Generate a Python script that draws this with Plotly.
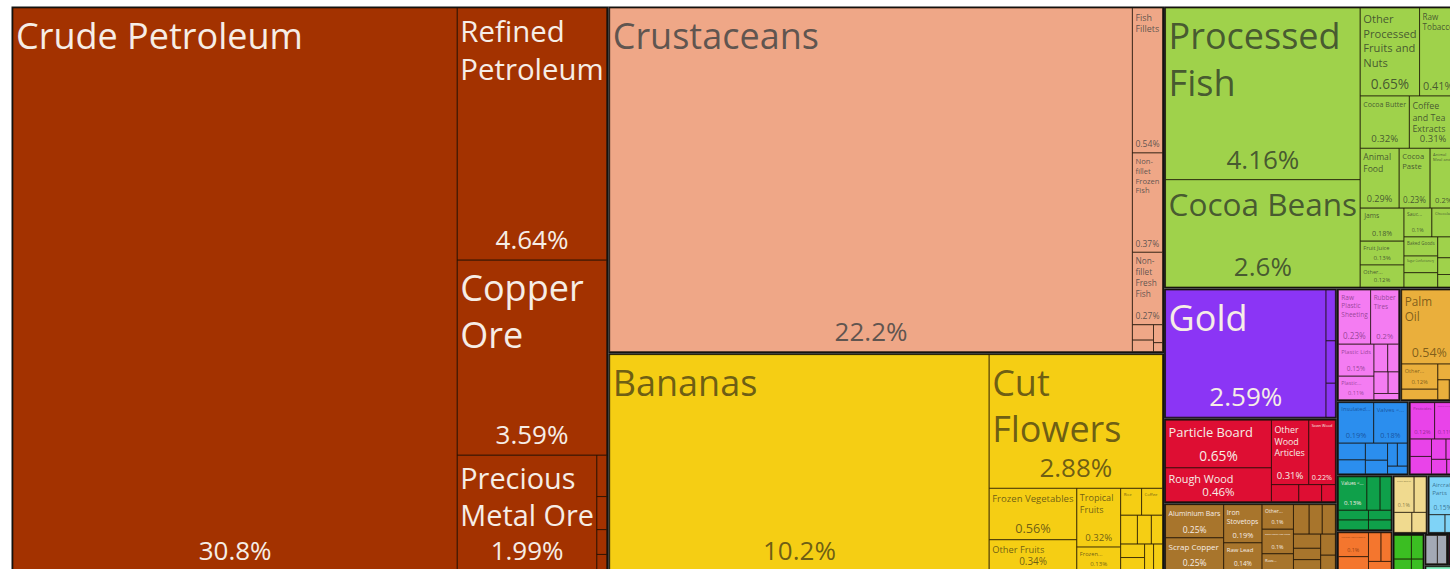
"""Treemap of export shares (OEC style) with plotly."""
import math
import plotly.graph_objects as go

# ---- data: share of total exports (%) by sector / product ----
mineral_products = ["Crude Petroleum", "Refined Petroleum", "Copper Ore", "Precious Metal Ore",
                    "Lead Ore", "Zinc Ore", "Cement", "Petroleum Gas"]
mineral_share = [30.8, 4.64, 3.59, 1.99, 0.05, 0.04, 0.03, 0.02]

animal_products = ["Crustaceans", "Fish Fillets", "Non-fillet Frozen Fish", "Non-fillet Fresh Fish",
                   "Molluscs", "Dried Fish", "Bird Eggs", "Horse Hair"]
animal_share = [22.2, 0.54, 0.37, 0.27, 0.04, 0.03, 0.02, 0.01]

vegetable_products = ["Bananas", "Cut Flowers", "Frozen Vegetables", "Other Fruits", "Tropical Fruits",
                      "Frozen Fruits and Nuts", "Rice", "Coffee", "Seeds for Planting", "Other Vegetables",
                      "Citrus", "Pepper", "Dried Legumes", "Tea", "Live Trees"]
vegetable_share = [10.2, 2.88, 0.56, 0.34, 0.32, 0.13, 0.07, 0.07, 0.06, 0.05, 0.04, 0.04, 0.04, 0.03, 0.03]

food_products = ["Processed Fish", "Cocoa Beans", "Other Processed Fruits and Nuts", "Raw Tobacco",
                 "Cocoa Butter", "Coffee and Tea Extracts", "Animal Food", "Cocoa Paste",
                 "Animal Meal and Pellets", "Jams", "Fruit Juice", "Other Edible Preparations",
                 "Sauces and Seasonings", "Chocolate", "Baked Goods", "Sugar Confectionery", "Pasta",
                 "Hard Liquor", "Beer", "Flavored Water"]
food_share = [4.16, 2.6, 0.65, 0.41, 0.32, 0.31, 0.29, 0.23, 0.2, 0.18, 0.13, 0.12,
              0.1, 0.09, 0.08, 0.07, 0.06, 0.05, 0.04, 0.03]

precious_products = ["Gold", "Silver", "Precious Metal Scraps", "Jewellery"]
precious_share = [2.59, 0.06, 0.05, 0.04]

wood_products = ["Particle Board", "Rough Wood", "Other Wood Articles", "Sawn Wood",
                 "Wood Crates", "Veneer Sheets", "Wood Fiberboard"]
wood_share = [0.65, 0.46, 0.31, 0.22, 0.06, 0.05, 0.03]

metal_products = ["Aluminium Bars", "Scrap Copper", "Iron Stovetops", "Raw Lead", "Other Iron Products",
                  "Other Small Iron Pipes", "Raw Aluminium", "Iron Structures", "Aluminium Plating",
                  "Iron Pipes", "Copper Wire", "Hot-Rolled Iron", "Scrap Iron", "Iron Fasteners", "Tin"]
metal_share = [0.25, 0.25, 0.19, 0.14, 0.1, 0.1, 0.07, 0.06, 0.05, 0.05, 0.05, 0.04, 0.04, 0.04, 0.03]

plastic_products = ["Raw Plastic Sheeting", "Rubber Tires", "Plastic Lids", "Plastic Housewares",
                    "Plastic Caps", "Rubber Pipes", "Polyethylene", "Synthetic Rubber", "Rubber Belts"]
plastic_share = [0.23, 0.2, 0.15, 0.11, 0.05, 0.04, 0.04, 0.03, 0.02]

fats_products = ["Palm Oil", "Other Vegetable Oils", "Palm Kernel Oil", "Margarine", "Fish Oil", "Vegetable Waxes"]
fats_share = [0.54, 0.12, 0.05, 0.04, 0.03, 0.02]

machine_products = ["Insulated Wire", "Valves", "Electric Motors", "Refrigerators", "Pumps",
                    "Industrial Machinery", "Engine Parts", "Computers", "Telephones"]
machine_share = [0.19, 0.18, 0.06, 0.05, 0.05, 0.04, 0.03, 0.03, 0.02]

chemical_products = ["Pesticides", "Packaged Medicaments", "Soap", "Cleaning Products", "Beauty Products",
                     "Vaccines", "Mixed Fertilizers", "Paints"]
chemical_share = [0.12, 0.11, 0.05, 0.05, 0.04, 0.03, 0.03, 0.02]

textile_products = ["Knit Sweaters", "Twine and Rope", "Sacks", "Non-Knit Men's Suits",
                    "Synthetic Filament", "Cotton Yarn", "Knit T-shirts"]
textile_share = [0.13, 0.06, 0.05, 0.04, 0.04, 0.03, 0.03]

instrument_products = ["Medical Instruments", "Orthopedic Appliances", "Optical Fibers",
                       "Measuring Instruments", "Other Instruments"]
instrument_share = [0.1, 0.06, 0.05, 0.04, 0.03]

transport_products = ["Aircraft Parts", "Vehicle Parts", "Motorcycles"]
transport_share = [0.15, 0.04, 0.03]

stone_products = ["Glass Bottles", "Cement Articles", "Ceramic Tiles", "Building Stone"]
stone_share = [0.1, 0.06, 0.05, 0.04]

paper_products = ["Cartons", "Kraft Paper", "Printed Books", "Toilet Paper"]
paper_share = [0.06, 0.04, 0.03, 0.02]

footwear_products = ["Hats"]
footwear_share = [0.04]

misc_products = ["Furniture", "Mattresses"]
misc_share = [0.05, 0.04]

arts_products = ["Paintings"]
arts_share = [0.03]

sectors = {
    "Mineral Products": (mineral_products, mineral_share),
    "Animal Products": (animal_products, animal_share),
    "Vegetable Products": (vegetable_products, vegetable_share),
    "Foodstuffs": (food_products, food_share),
    "Precious Metals": (precious_products, precious_share),
    "Wood Products": (wood_products, wood_share),
    "Metals": (metal_products, metal_share),
    "Plastics and Rubbers": (plastic_products, plastic_share),
    "Animal and Vegetable Bi-Products": (fats_products, fats_share),
    "Machines": (machine_products, machine_share),
    "Chemical Products": (chemical_products, chemical_share),
    "Textiles": (textile_products, textile_share),
    "Instruments": (instrument_products, instrument_share),
    "Transportation": (transport_products, transport_share),
    "Stone And Glass": (stone_products, stone_share),
    "Paper Goods": (paper_products, paper_share),
    "Footwear and Headwear": (footwear_products, footwear_share),
    "Miscellaneous": (misc_products, misc_share),
    "Arts and Antiques": (arts_products, arts_share),
}

# ---- styling ----
sector_color = {
    "Mineral Products": "#A33200", "Animal Products": "#EFA787", "Vegetable Products": "#F5CE14",
    "Foodstuffs": "#9FD24B", "Precious Metals": "#8B35F5", "Wood Products": "#DE0E33",
    "Metals": "#A8752C", "Plastics and Rubbers": "#F47CF2",
    "Animal and Vegetable Bi-Products": "#EAAF3C", "Machines": "#2B8EEE",
    "Chemical Products": "#E943E9", "Textiles": "#0FA04A", "Instruments": "#F4762E",
    "Transportation": "#7FD3F7", "Stone And Glass": "#F0DA8F", "Paper Goods": "#3BBE22",
    "Footwear and Headwear": "#A3007E", "Miscellaneous": "#A3A9B5", "Arts and Antiques": "#80F0C0",
}
light_text = "#F6EDE6"
sector_text = {
    "Mineral Products": light_text, "Animal Products": "rgba(70,70,70,0.85)",
    "Vegetable Products": "rgba(85,75,20,0.85)", "Foodstuffs": "rgba(60,75,45,0.9)",
    "Precious Metals": light_text, "Wood Products": light_text, "Metals": light_text,
    "Plastics and Rubbers": "rgba(120,50,120,0.75)", "Animal and Vegetable Bi-Products": "rgba(110,80,20,0.85)",
    "Machines": "rgba(20,70,140,0.8)", "Chemical Products": "rgba(120,30,120,0.75)",
    "Textiles": light_text, "Instruments": "rgba(120,50,10,0.8)", "Transportation": "rgba(40,90,120,0.8)",
    "Stone And Glass": "rgba(110,95,50,0.8)", "Paper Goods": light_text,
    "Footwear and Headwear": light_text, "Miscellaneous": "rgba(60,60,60,0.8)",
    "Arts and Antiques": "rgba(40,100,80,0.8)",
}
wraps = {
    "Refined Petroleum": "Refined<br>Petroleum", "Copper Ore": "Copper<br>Ore",
    "Precious Metal Ore": "Precious<br>Metal Ore", "Processed Fish": "Processed<br>Fish",
    "Cut Flowers": "Cut<br>Flowers", "Palm Oil": "Palm<br>Oil",
    "Fish Fillets": "Fish<br>Fillets", "Non-fillet Frozen Fish": "Non-<br>fillet<br>Frozen<br>Fish",
    "Non-fillet Fresh Fish": "Non-<br>fillet<br>Fresh<br>Fish", "Tropical Fruits": "Tropical<br>Fruits",
    "Other Processed Fruits and Nuts": "Other<br>Processed<br>Fruits and<br>Nuts",
    "Raw Tobacco": "Raw<br>Tobacco", "Coffee and Tea Extracts": "Coffee<br>and Tea<br>Extracts",
    "Animal Food": "Animal<br>Food", "Cocoa Paste": "Cocoa<br>Paste",
    "Animal Meal and Pellets": "Animal<br>Meal and...", "Other Wood Articles": "Other<br>Wood<br>Articles",
    "Iron Stovetops": "Iron<br>Stovetops", "Raw Plastic Sheeting": "Raw<br>Plastic<br>Sheeting",
    "Rubber Tires": "Rubber<br>Tires", "Aircraft Parts": "Aircraft<br>Parts",
    "Frozen Fruits and Nuts": "Frozen...", "Other Edible Preparations": "Other...",
    "Other Vegetable Oils": "Other...", "Other Iron Products": "Other...", "Plastic Housewares": "Plastic...",
    "Raw Aluminium": "Raw...", "Knit Sweaters": "Values <...", "Valves": "Valves <...",
    "Insulated Wire": "Insulated...", "Sauces and Seasonings": "Sauc...",
}

hidden = "rgba(0,0,0,0)"
ids, labels, parents, values = [], [], [], []
fills, line_w, line_c, txt_c, name_txt, pct_txt, name_size, pct_size = [], [], [], [], [], [], [], []
for sector, (names, shares) in sectors.items():
    ids.append(sector); labels.append(sector); parents.append(""); values.append(0)
    fills.append("#141414"); line_w.append(0); line_c.append("#141414")
    txt_c.append(hidden); name_txt.append(""); pct_txt.append("")
    name_size.append(1); pct_size.append(1)
    for n, s in zip(names, shares):
        ids.append(sector + "/" + n); labels.append(n); parents.append(sector); values.append(s)
        fills.append(sector_color[sector]); line_w.append(1); line_c.append("rgba(25,15,5,0.65)")
        txt_c.append(sector_text[sector])
        # tiny tiles carry no text, as in the original
        name_txt.append(wraps.get(n, n) if s >= 0.07 else "")
        pct_txt.append(f"{s:g}%" if s >= 0.1 else "")
        k = 24 if s >= 1 else 16
        name_size.append(min(36, k * math.sqrt(s)))
        pct_size.append(min(26, (k + 1) * math.sqrt(s)))

font = "Open Sans, Noto Sans, sans-serif"
pad = dict(t=1.5, l=1.5, r=1.5, b=1.5)
tiling = dict(packing="squarify", squarifyratio=1.618, pad=0)

fig = go.Figure()
fig.add_trace(go.Treemap(
    ids=ids, labels=labels, parents=parents, values=values, branchvalues="remainder",
    text=name_txt, textinfo="text", textposition="top left",
    textfont=dict(family=font, size=name_size, color=txt_c),
    marker=dict(colors=fills, line=dict(width=line_w, color=line_c), pad=pad),
    tiling=tiling, pathbar=dict(visible=False), sort=True, hoverinfo="label+value",
))
# second, transparent copy of the same tree just to carry the shares at the bottom of each tile
fig.add_trace(go.Treemap(
    ids=ids, labels=labels, parents=parents, values=values, branchvalues="remainder",
    text=pct_txt, textinfo="text", textposition="bottom center",
    textfont=dict(family=font, size=pct_size, color=txt_c),
    marker=dict(colors=[hidden] * len(ids), line=dict(width=0), pad=pad),
    tiling=tiling, pathbar=dict(visible=False), sort=True, hoverinfo="skip",
))

fig.update_layout(
    width=1460, height=574,
    margin=dict(l=10, r=0, t=5, b=0),
    paper_bgcolor="white",
    showlegend=False,
)

# page without body margin, the tree runs slightly past the window like the original crop
fig.write_html("out.html", config={"displayModeBar": False}, post_script=(
    "document.body.style.margin='0';"
    "document.body.style.overflow='hidden';"
    "document.documentElement.style.overflow='hidden';"
))
